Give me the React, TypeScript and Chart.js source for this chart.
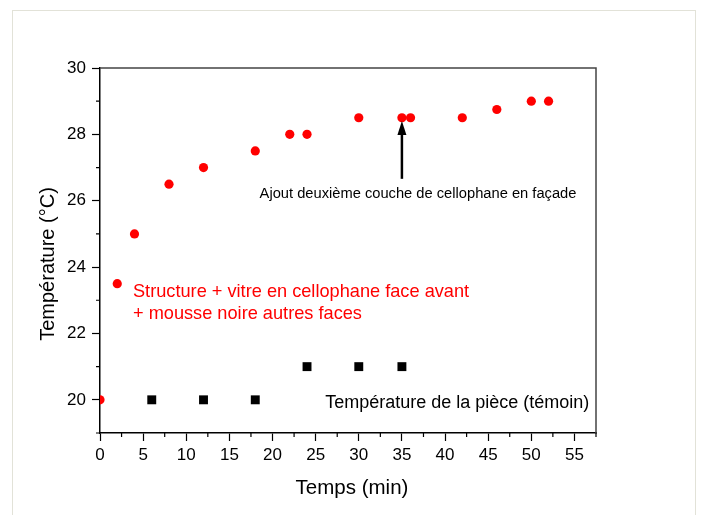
import React, { useEffect, useRef } from "react";
import { Chart, registerables } from "chart.js";

Chart.register(...registerables);

// ---- data ----
const redTimes = [0, 2, 4, 8, 12, 18, 22, 24, 30, 35, 36, 42, 46, 50, 52];
const redTemps = [20, 23.5, 25, 26.5, 27, 27.5, 28, 28, 28.5, 28.5, 28.5, 28.5, 28.75, 29, 29];
const blackTimes = [6, 12, 18, 24, 30, 35];
const blackTemps = [20, 20, 20, 21, 21, 21];
const xTickValues = [0, 5, 10, 15, 20, 25, 30, 35, 40, 45, 50, 55];
const yTickValues = [20, 22, 24, 26, 28, 30];
const xMinorTicks = [2.5, 7.5, 12.5, 17.5, 22.5, 27.5, 32.5, 37.5, 42.5, 47.5, 52.5, 57.5];
const yMinorTicks = [19, 21, 23, 25, 27, 29];

const FONT = "'Liberation Sans', Arial, sans-serif";

const overlayPlugin = {
  id: "overlay",
  beforeDraw(chart: any) {
    const ctx = chart.ctx;
    ctx.save();
    ctx.fillStyle = "#ffffff";
    ctx.fillRect(0, 0, chart.width, chart.height);
    ctx.strokeStyle = "#e2e2d8";
    ctx.lineWidth = 1;
    ctx.strokeRect(12.5, 10.5, 683, 520);
    ctx.restore();
  },
  afterDraw(chart: any) {
    const ctx = chart.ctx;
    const xs = chart.scales.x;
    const ys = chart.scales.y;
    const { left, right, top, bottom } = chart.chartArea;
    ctx.save();
    // top & right frame lines
    ctx.strokeStyle = "#444";
    ctx.lineWidth = 1.5;
    ctx.beginPath();
    ctx.moveTo(left, top);
    ctx.lineTo(right, top);
    ctx.lineTo(right, bottom);
    ctx.stroke();
    // minor ticks
    ctx.strokeStyle = "#000";
    ctx.lineWidth = 1.2;
    ctx.beginPath();
    xMinorTicks.forEach((v) => {
      const px = xs.getPixelForValue(v);
      ctx.moveTo(px, bottom);
      ctx.lineTo(px, bottom + 4);
    });
    yMinorTicks.forEach((v) => {
      const py = ys.getPixelForValue(v);
      ctx.moveTo(left, py);
      ctx.lineTo(left - 4, py);
    });
    ctx.stroke();
    // arrow
    const ax = xs.getPixelForValue(35);
    const tipY = ys.getPixelForValue(28.4);
    const baseY = ys.getPixelForValue(26.66);
    ctx.strokeStyle = "#000";
    ctx.lineWidth = 2.5;
    ctx.beginPath();
    ctx.moveTo(ax, baseY);
    ctx.lineTo(ax, tipY + 10);
    ctx.stroke();
    ctx.fillStyle = "#000";
    ctx.beginPath();
    ctx.moveTo(ax, tipY);
    ctx.lineTo(ax - 4.5, tipY + 14);
    ctx.lineTo(ax + 4.5, tipY + 14);
    ctx.closePath();
    ctx.fill();
    // texts
    ctx.textBaseline = "middle";
    ctx.textAlign = "left";
    ctx.fillStyle = "#000";
    ctx.font = `14.7px ${FONT}`;
    ctx.fillText("Ajout deuxième couche de cellophane en façade", xs.getPixelForValue(18.5), ys.getPixelForValue(26.2));
    ctx.fillStyle = "#ff0000";
    ctx.font = `18.2px ${FONT}`;
    ctx.fillText("Structure + vitre en cellophane face avant", xs.getPixelForValue(3.82), ys.getPixelForValue(23.24));
    ctx.fillText("+ mousse noire autres faces", xs.getPixelForValue(3.82), ys.getPixelForValue(22.58));
    ctx.fillStyle = "#000";
    ctx.font = `18px ${FONT}`;
    ctx.fillText("Température de la pièce (témoin)", xs.getPixelForValue(26.1), ys.getPixelForValue(19.89));
    // axis titles
    ctx.font = `20.5px ${FONT}`;
    ctx.textAlign = "center";
    ctx.fillText("Temps (min)", 352, 488);
    ctx.save();
    ctx.font = `20px ${FONT}`;
    ctx.translate(48, 264);
    ctx.rotate(-Math.PI / 2);
    ctx.fillText("Température (°C)", 0, 0);
    ctx.restore();
    ctx.restore();
  },
};

export default function App() {
  const ref = useRef<HTMLCanvasElement | null>(null);
  useEffect(() => {
    if (!ref.current) return;
    const chart = new Chart(ref.current, {
      type: "scatter",
      data: {
        datasets: [
          {
            data: redTimes.map((t, i) => ({ x: t, y: redTemps[i] })),
            pointStyle: "circle",
            pointRadius: 4.6,
            pointHoverRadius: 4.6,
            backgroundColor: "#ff0000",
            borderWidth: 0,
            clip: 0,
          } as any,
          {
            data: blackTimes.map((t, i) => ({ x: t, y: blackTemps[i] })),
            pointStyle: "rect",
            pointRadius: 6.3,
            pointHoverRadius: 6.3,
            backgroundColor: "#000000",
            borderWidth: 0,
            clip: 0,
          } as any,
        ],
      },
      options: {
        responsive: false,
        animation: false,
        devicePixelRatio: 1,
        events: [],
        layout: { padding: { left: 0, top: 68, right: 109, bottom: 0 } },
        plugins: { legend: { display: false }, tooltip: { enabled: false } },
        scales: {
          x: {
            type: "linear",
            min: 0,
            max: 57.5,
            afterBuildTicks: (s: any) => {
              s.ticks = xTickValues.map((v) => ({ value: v }));
            },
            afterFit: (s: any) => {
              s.height = 82;
            },
            grid: { drawOnChartArea: false, tickLength: 8, color: "#000", tickWidth: 1.2 },
            border: { color: "#000", width: 1.5 },
            ticks: { font: { family: FONT, size: 17 }, color: "#000", padding: 4, maxRotation: 0, autoSkip: false },
          },
          y: {
            type: "linear",
            min: 19,
            max: 30,
            afterBuildTicks: (s: any) => {
              s.ticks = yTickValues.map((v) => ({ value: v }));
            },
            afterFit: (s: any) => {
              s.width = 100;
            },
            grid: { drawOnChartArea: false, tickLength: 8, color: "#000", tickWidth: 1.2 },
            border: { color: "#000", width: 1.5 },
            ticks: { font: { family: FONT, size: 17 }, color: "#000", padding: 6, autoSkip: false },
          },
        },
      } as any,
      plugins: [overlayPlugin],
    });
    return () => chart.destroy();
  }, []);
  return (
    <div style={{ position: "fixed", left: 0, top: 0, width: 705, height: 515, background: "#fff" }}>
      <canvas ref={ref} width={705} height={515} style={{ display: "block", width: 705, height: 515 }} />
    </div>
  );
}
